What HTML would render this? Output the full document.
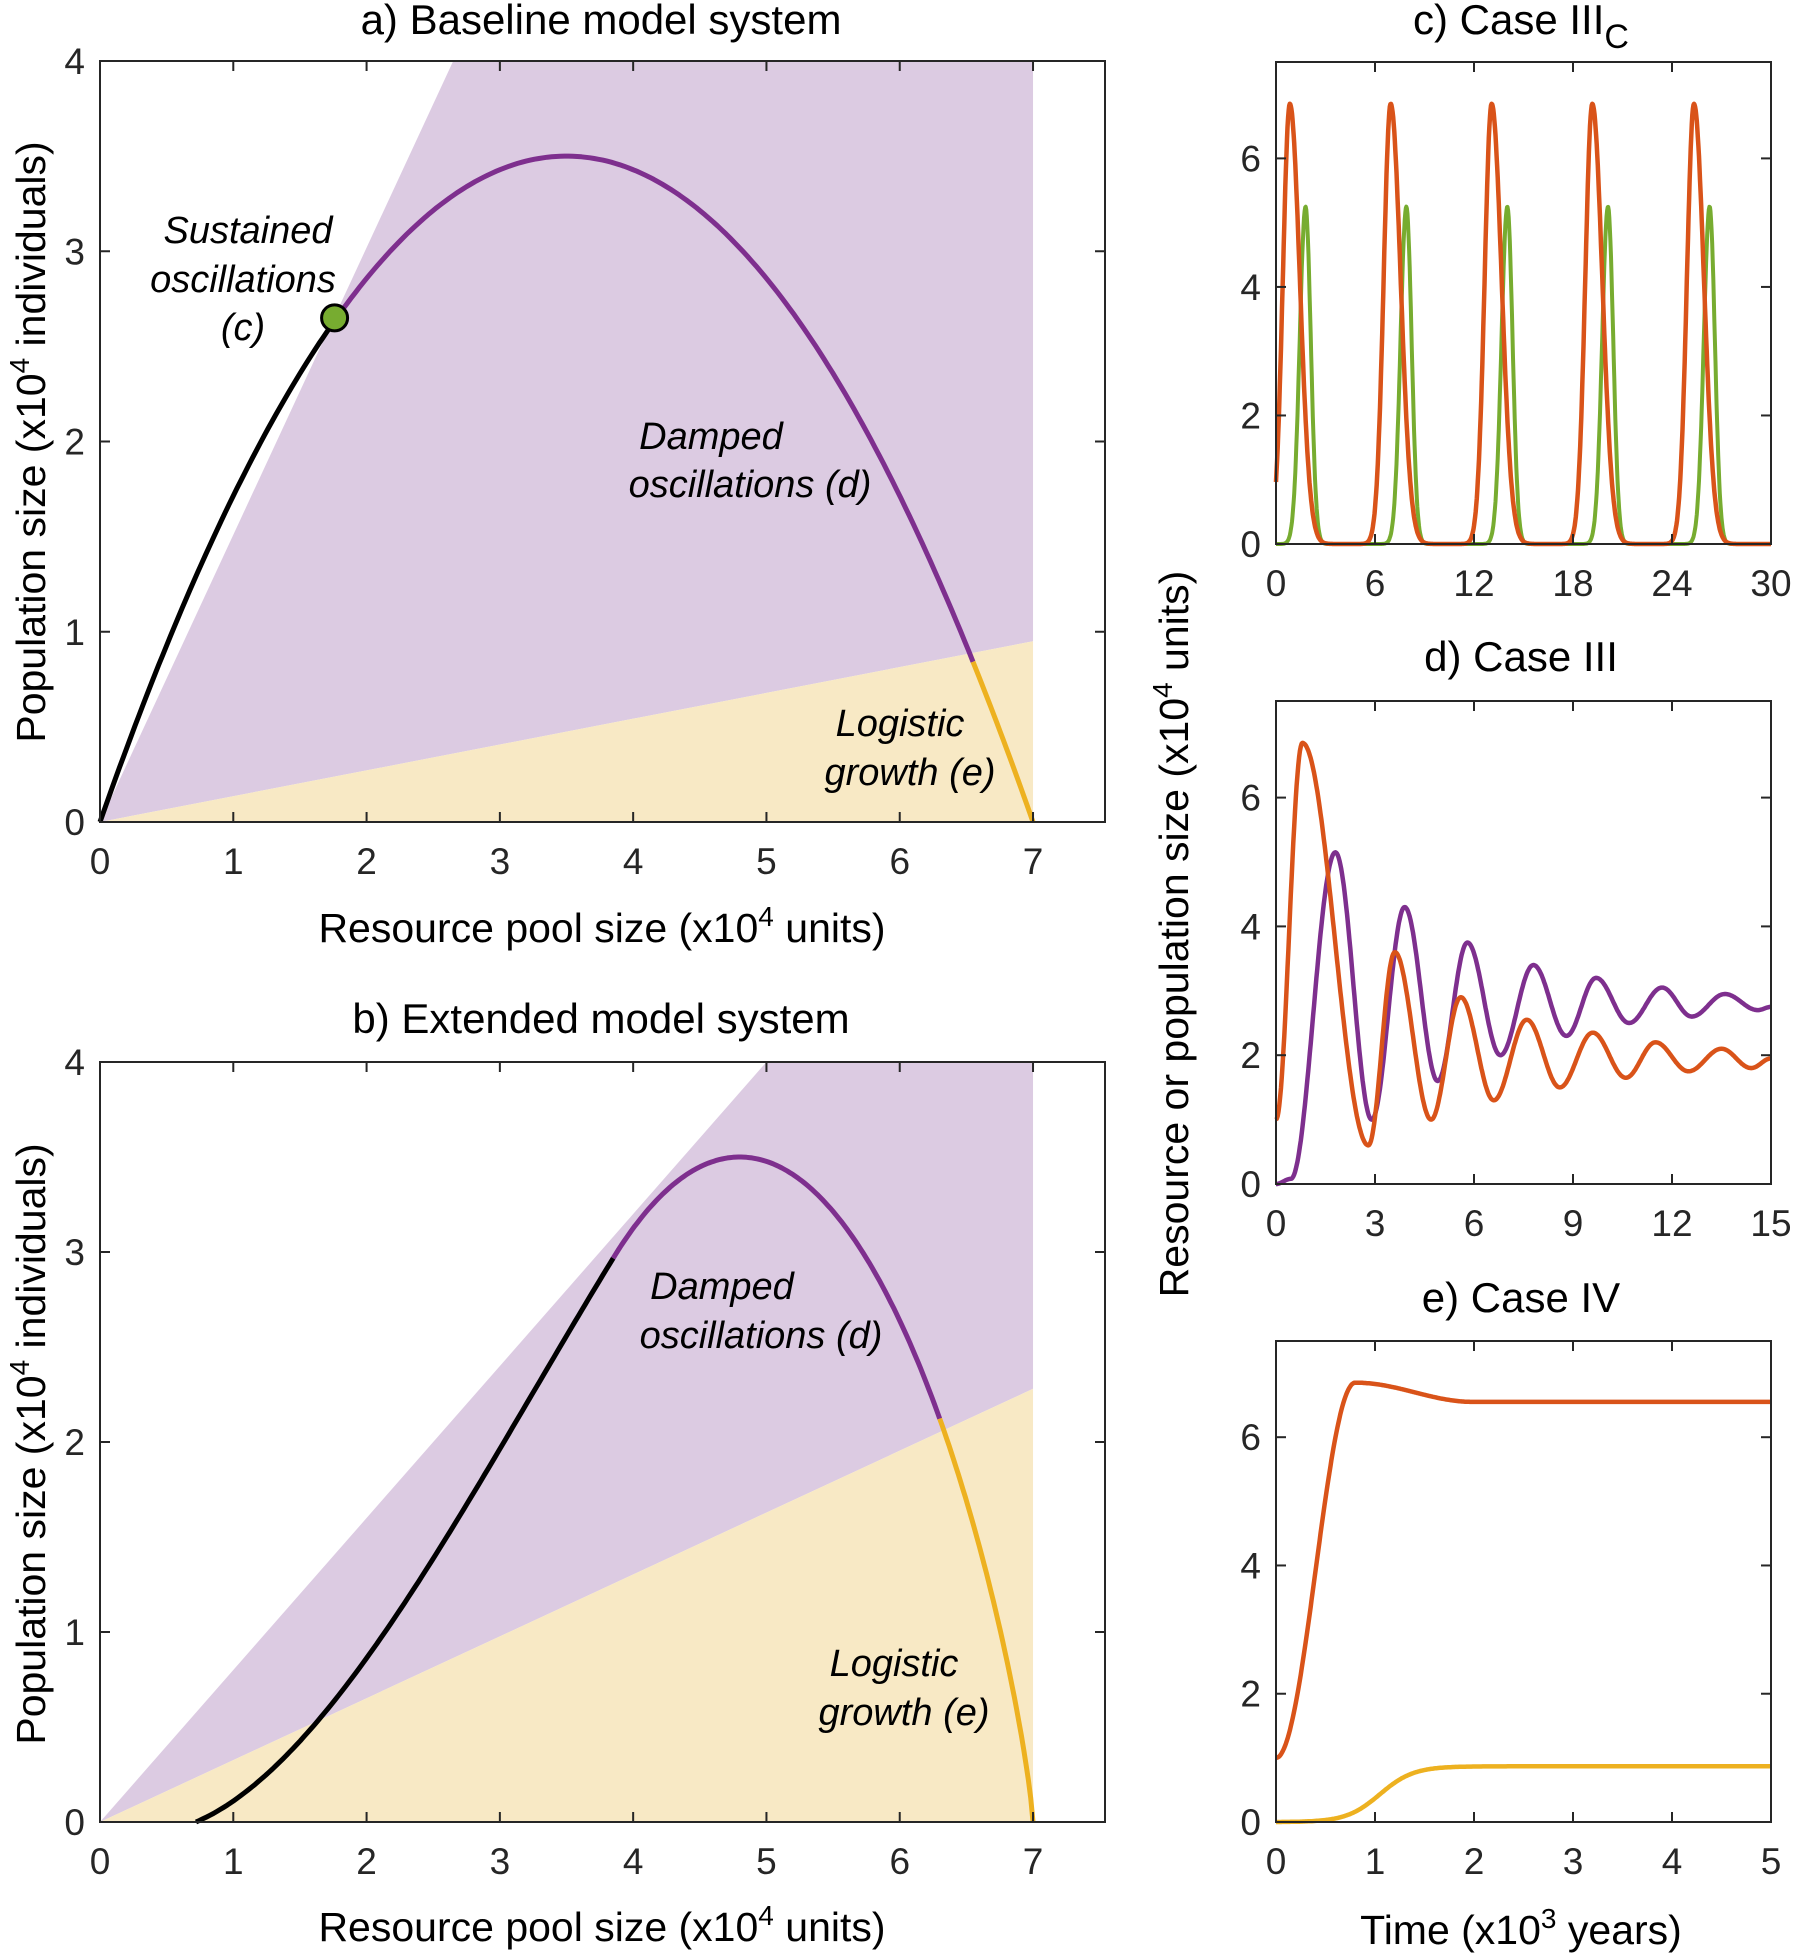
<!DOCTYPE html>
<html><head><meta charset="utf-8"><style>
html,body{margin:0;padding:0;background:#fff;}
svg{display:block;font-family:"Liberation Sans",Arial,sans-serif;}
</style></head><body>
<svg id="s" width="1793" height="1954" viewBox="0 0 1793 1954" xmlns="http://www.w3.org/2000/svg"></svg>
<script>
var out=[];
function P(pts){return pts.map(function(p,i){return (i?'L':'M')+p[0].toFixed(1)+' '+p[1].toFixed(1);}).join(' ');}
function mk(L,R,B,T,xmin,xmax,ymin,ymax){
  return {L:L,R:R,B:B,T:T,X:function(x){return L+(x-xmin)/(xmax-xmin)*(R-L);},Y:function(y){return B-(y-ymin)/(ymax-ymin)*(B-T);}};
}
function frame(a,xt,yt,fs){
  var s='';
  xt.forEach(function(t){var x=a.X(t);s+='<line x1="'+x+'" y1="'+a.B+'" x2="'+x+'" y2="'+(a.B-10)+'" stroke="#262626" stroke-width="2"/>'+
    '<line x1="'+x+'" y1="'+a.T+'" x2="'+x+'" y2="'+(a.T+10)+'" stroke="#262626" stroke-width="2"/>'+
    '<text x="'+x+'" y="'+(a.B+52)+'" font-size="'+fs+'" text-anchor="middle" fill="#262626">'+t+'</text>';});
  yt.forEach(function(t){var y=a.Y(t);s+='<line x1="'+a.L+'" y1="'+y+'" x2="'+(a.L+10)+'" y2="'+y+'" stroke="#262626" stroke-width="2"/>'+
    '<line x1="'+a.R+'" y1="'+y+'" x2="'+(a.R-10)+'" y2="'+y+'" stroke="#262626" stroke-width="2"/>'+
    '<text x="'+(a.L-15)+'" y="'+(y+13)+'" font-size="'+fs+'" text-anchor="end" fill="#262626">'+t+'</text>';});
  s+='<rect x="'+a.L+'" y="'+a.T+'" width="'+(a.R-a.L)+'" height="'+(a.B-a.T)+'" fill="none" stroke="#262626" stroke-width="2"/>';
  return s;
}
function curve(a,f,x0,x1,n){var p=[];for(var i=0;i<=n;i++){var x=x0+(x1-x0)*i/n;p.push([a.X(x),a.Y(f(x))]);}return P(p);}
function path(d,c,w){return '<path d="'+d+'" fill="none" stroke="'+c+'" stroke-width="'+w+'" stroke-linejoin="round" stroke-linecap="butt"/>';}
function poly(a,pts,c){return '<polygon points="'+pts.map(function(p){return a.X(p[0])+','+a.Y(p[1]);}).join(' ')+'" fill="'+c+'"/>';}
function interp(ext){return function(t){for(var i=0;i<ext.length-1;i++){var a=ext[i],b=ext[i+1];if(t<=b[0]){var u=(t-a[0])/(b[0]-a[0]);var k=(1-Math.cos(Math.PI*u))/2;return a[1]+(b[1]-a[1])*k;}}return ext[ext.length-1][1];};}
function it(x,y,t){return '<text x="'+x+'" y="'+y+'" font-size="38" font-style="italic" text-anchor="middle" fill="#000">'+t+'</text>';}
var PU='#dccbe2',BE='#f8e9c5',OR='#d95319',PR='#7e2f8e',YE='#edb120',GR='#77ac30';
var TF=37;
// Panel a
var a=mk(100,1105,822,61,0,7.54,0,4);
out.push(poly(a,[[0,0],[2.65,4],[7,4],[7,0.95]],PU));
out.push(poly(a,[[0,0],[7,0.95],[7,0]],BE));
var fa=function(x){return x*(7-x)/3.5;};
out.push(path(curve(a,fa,0,1.76,60),'#000',5));
out.push(path(curve(a,fa,1.76,6.55,150),PR,5));
out.push(path(curve(a,fa,6.55,7,20),YE,5));
out.push('<circle cx="'+a.X(1.76)+'" cy="'+a.Y(2.65)+'" r="13" fill="'+GR+'" stroke="#000" stroke-width="3"/>');
out.push(frame(a,[0,1,2,3,4,5,6,7],[0,1,2,3,4],TF));
out.push(it(248,243,'Sustained')+it(243,292,'oscillations')+it(243,340,'(c)'));
out.push(it(711,449,'Damped')+it(750,497,'oscillations (d)'));
out.push(it(900,736,'Logistic')+it(910,785,'growth (e)'));
// Panel b
var b=mk(100,1105,1822,1062,0,7.54,0,4);
out.push(poly(b,[[0,0],[5,4],[7,4],[7,2.28]],PU));
out.push(poly(b,[[0,0],[7,2.28],[7,0]],BE));
function g(x){var u=(x-4.8)/2.2;var v=1-u*u;if(v<0)v=0;return 3.5*Math.pow(v,0.8);}
var xa=0.72,xb=3.85,yb=g(3.85),mb=(g(3.851)-g(3.849))/0.002,m0=0.3;
function h(x){var L=xb-xa,u=(x-xa)/L,u2=u*u,u3=u2*u;return (u3-2*u2+u)*m0*L+(-2*u3+3*u2)*yb+(u3-u2)*mb*L;}
function fb(x){return x<xb?h(x):g(x);}
out.push(path(curve(b,fb,0.72,3.85,120),'#000',5));
out.push(path(curve(b,fb,3.85,6.3,120),PR,5));
out.push(path(curve(b,fb,6.3,7,40),YE,5));
out.push(frame(b,[0,1,2,3,4,5,6,7],[0,1,2,3,4],TF));
out.push(it(722,1299,'Damped')+it(761,1348,'oscillations (d)'));
out.push(it(894,1676,'Logistic')+it(904,1725,'growth (e)'));
// titles/labels left
out.push('<text x="601" y="34" font-size="42" text-anchor="middle">a) Baseline model system</text>');
out.push('<text x="601" y="1033" font-size="42" text-anchor="middle">b) Extended model system</text>');
out.push('<text x="602" y="942" font-size="41" text-anchor="middle">Resource pool size (x10<tspan dy="-16" font-size="28">4</tspan><tspan dy="16"> units)</tspan></text>');
out.push('<text x="602" y="1941" font-size="41" text-anchor="middle">Resource pool size (x10<tspan dy="-16" font-size="28">4</tspan><tspan dy="16"> units)</tspan></text>');
[442,1444].forEach(function(cy){out.push('<text transform="translate(45,'+cy+') rotate(-90)" font-size="41" text-anchor="middle">Population size (x10<tspan dy="-16" font-size="28">4</tspan><tspan dy="16"> individuals)</tspan></text>');});
// Panel c
var c=mk(1276,1771,544,62,0,30,0,7.5);
function sg(t,tp,wl,wr,h){var w=t<tp?wl:wr;var z=(t-tp)/w;return h*Math.exp(-z*z);}
var peaks=[0.84,6.95,13.07,19.17,25.33];
function fo(t){var v=0;peaks.forEach(function(p){v+=sg(t,p,0.6,0.85,6.85);});return v;}
function fg(t){var v=0;peaks.forEach(function(p){v+=sg(t,p+0.95,0.5,0.45,5.25);});return v;}
out.push(path(curve(c,fg,0,30,900),GR,4));
out.push(path(curve(c,fo,0,30,900),OR,4.5));
out.push(frame(c,[0,6,12,18,24,30],[0,2,4,6],TF));
// Panel d
var d=mk(1276,1771,1184,701,0,15,0,7.5);
var od=interp([[0,1],[0.8,6.85],[2.8,0.6],[3.6,3.6],[4.7,1.0],[5.6,2.9],[6.6,1.3],[7.6,2.55],[8.6,1.5],[9.6,2.35],[10.6,1.65],[11.5,2.2],[12.5,1.75],[13.5,2.1],[14.4,1.8],[15,1.95]]);
var pd=interp([[0,0],[0.45,0.08],[1.8,5.15],[2.9,1.0],[3.9,4.3],[4.9,1.6],[5.8,3.75],[6.8,2.0],[7.8,3.4],[8.8,2.3],[9.7,3.2],[10.7,2.5],[11.7,3.05],[12.6,2.6],[13.6,2.95],[14.6,2.7],[15,2.75]]);
out.push(path(curve(d,pd,0,15,600),PR,4.5));
out.push(path(curve(d,od,0,15,600),OR,4.5));
out.push(frame(d,[0,3,6,9,12,15],[0,2,4,6],TF));
// Panel e
var e=mk(1276,1771,1822,1341,0,5,0,7.5);
var oe=interp([[0,1],[0.8,6.85],[2,6.55],[5,6.55]]);
var ye=function(t){return 0.87/(1+Math.exp(-(t-1.05)/0.17))-0.87/(1+Math.exp(1.05/0.17));};
out.push(path(curve(e,ye,0,5,400),YE,4.5));
out.push(path(curve(e,oe,0,5,500),OR,4.5));
out.push(frame(e,[0,1,2,3,4,5],[0,2,4,6],TF));
out.push('<text x="1521" y="34" font-size="42" text-anchor="middle">c) Case III<tspan dy="14" font-size="34">C</tspan></text>');
out.push('<text x="1521" y="671" font-size="42" text-anchor="middle">d) Case III</text>');
out.push('<text x="1521" y="1312" font-size="42" text-anchor="middle">e) Case IV</text>');
out.push('<text transform="translate(1188,934) rotate(-90)" font-size="41" text-anchor="middle">Resource or population size (x10<tspan dy="-16" font-size="28">4</tspan><tspan dy="16"> units)</tspan></text>');
out.push('<text x="1521" y="1944" font-size="41" text-anchor="middle">Time (x10<tspan dy="-16" font-size="28">3</tspan><tspan dy="16"> years)</tspan></text>');
document.getElementById('s').innerHTML=out.join('');
</script>
</body></html>
